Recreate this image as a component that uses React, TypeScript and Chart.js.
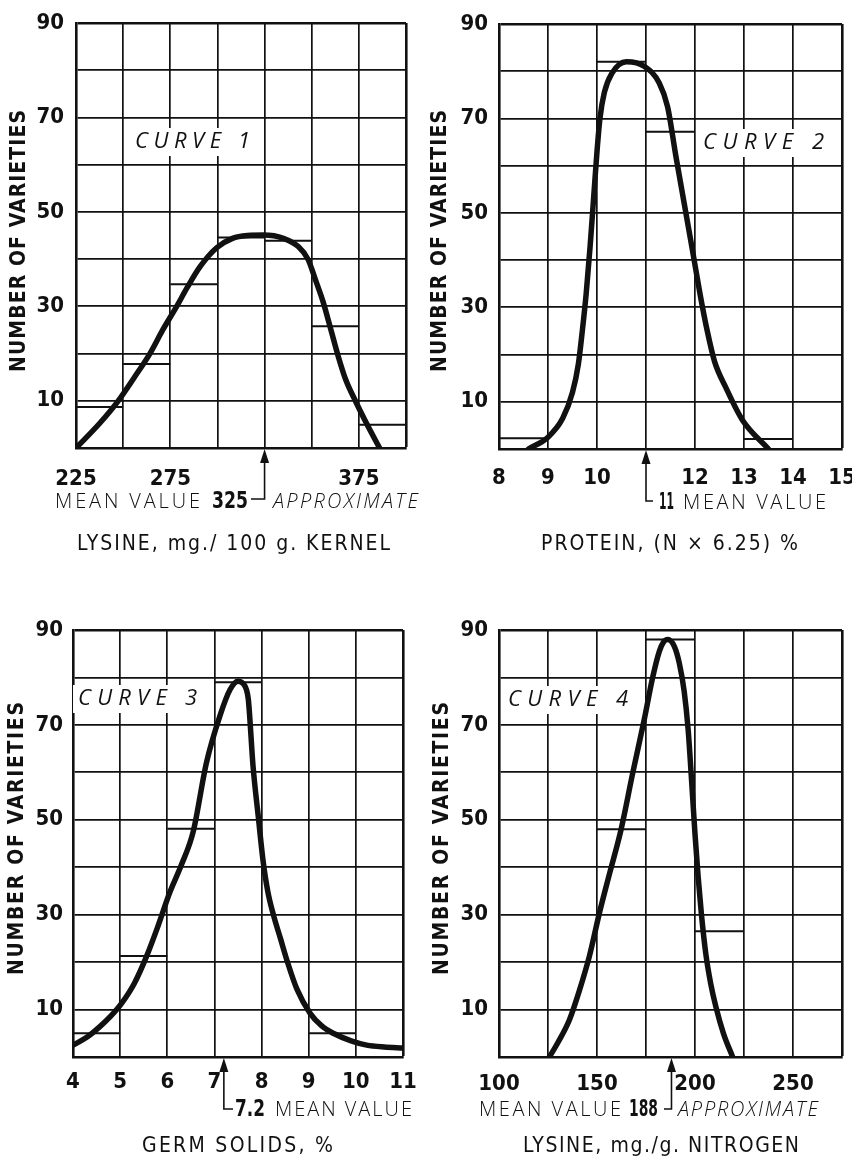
import React, { useEffect, useRef } from "react";
import { Chart, registerables } from "chart.js";

Chart.register(...registerables);

const BOLD = "'DejaVu Sans Condensed', 'DejaVu Sans', sans-serif";
const LIGHT = "'Open Sans', 'Liberation Sans', sans-serif";
const INK = "#111111";

// ---------- Curve 1 : Lysine, mg./100 g. kernel ----------
const c1CurveX = [225, 237.7, 247.4, 256, 264.2, 271, 278.4, 284, 290.8, 299.6, 308, 316, 324.5, 335, 343, 348, 352, 356, 360, 364, 368, 373.5, 380, 386];
const c1CurveY = [0, 5.3, 10, 15, 20, 25, 30, 34, 38.4, 42.4, 44.4, 45, 45.1, 44.4, 42.6, 40, 35.6, 31, 25.3, 19.5, 14.5, 9.7, 4.5, 0];
const c1BinStart = [225, 250, 275, 300, 325, 350, 375];
const c1BinEnd = [250, 275, 300, 325, 350, 375, 400];
const c1BinCount = [8.7, 17.8, 34.7, 44.6, 43.9, 25.8, 4.9];
const c1XTickLabels = [225, 275, 375];
const c1Mean = 325;

// ---------- Curve 2 : Protein, (N x 6.25) % ----------
const c2CurveX = [8.6, 9.0, 9.3, 9.5, 9.62, 9.7, 9.78, 9.86, 9.93, 10.0, 10.06, 10.15, 10.3, 10.6, 10.97, 11.27, 11.44, 11.61, 11.78, 11.95, 12.1, 12.25, 12.4, 12.63, 12.97, 13.5];
const c2CurveY = [0, 2.5, 6.5, 12, 18, 25, 33, 43, 53, 63, 70, 75.5, 79.5, 82, 81, 77.5, 72.5, 62, 52, 42, 33, 25, 18.5, 13, 6.1, 0];
const c2BinStart = [8, 10, 11, 13];
const c2BinEnd = [9, 11, 12, 14];
const c2BinCount = [2.3, 82, 67.2, 2.1];
const c2XTickLabels = [8, 9, 10, 12, 13, 14, 15];
const c2Mean = 11;

// ---------- Curve 3 : Germ solids, % ----------
const c3CurveX = [4, 4.3, 4.57, 4.8, 5.03, 5.3, 5.56, 5.8, 6.05, 6.3, 6.55, 6.83, 7.12, 7.33, 7.5, 7.62, 7.68, 7.72, 7.82, 7.93, 8.03, 8.13, 8.25, 8.4, 8.55, 8.75, 9.03, 9.27, 9.52, 9.9, 10.23, 10.6, 11];
const c3CurveY = [2.5, 4.2, 6.4, 8.6, 11.3, 15.5, 21.2, 27.5, 34.6, 40.5, 47.5, 62, 72, 77.4, 79.2, 78.6, 77.4, 75.3, 61.2, 50.7, 41.5, 35, 30, 25, 20, 14.3, 9.2, 6.6, 5, 3.4, 2.5, 2.1, 1.9];
const c3BinStart = [4, 5, 6, 7, 9];
const c3BinEnd = [5, 6, 7, 8, 10];
const c3BinCount = [5, 21.3, 48.1, 79, 5];
const c3XTickLabels = [4, 5, 6, 7, 8, 9, 10, 11];
const c3Mean = 7.2;

// ---------- Curve 4 : Lysine, mg./g. nitrogen ----------
const c4CurveX = [125.7, 130, 135.9, 141, 146.1, 151.2, 156.3, 162.3, 168.2, 174.1, 178.4, 181.8, 184, 186.1, 189.5, 192, 194.5, 196.5, 198.3, 200, 201.6, 203.3, 205.6, 208, 210.7, 214.5, 219.2];
const c4CurveY = [0, 3, 7.8, 14, 21.2, 30.3, 38.5, 48, 59.8, 71.1, 80, 85.5, 87.5, 88, 86.5, 83, 77, 69, 58, 47, 38, 30, 21.5, 15.5, 10.5, 5, 0];
const c4BinStart = [150, 175, 200];
const c4BinEnd = [175, 200, 225];
const c4BinCount = [48, 88, 26.5];
const c4XTickLabels = [100, 150, 200, 250];
const c4Mean = 188;

const yTickLabels = [10, 30, 50, 70, 90];
const yMin = 0;
const yMax = 90;
const yStep = 10;

type Piece = { text: string; x0: number; x1: number; kind: "bold" | "light" | "italic" };
type PanelCfg = {
  key: string;
  left: number;
  top: number;
  area: { l: number; r: number; t: number; b: number };
  xMin: number;
  xMax: number;
  xStep: number;
  xLabels: number[];
  curveX: number[];
  curveY: number[];
  binStart: number[];
  binEnd: number[];
  binCount: number[];
  mean: number;
  yTickPad: number;
  xTickPad: number;
  curveLabel: { text: string; x0: number; x1: number; y: number };
  meanLine: { lineTo: number; stubTo: number; y: number; pieces: Piece[] };
  xTitle: { text: string; x0: number; x1: number; y: number };
  yTitle: { text: string; x: number; y0: number; y1: number };
};

const W = 426;
const H = 579;

const panels: PanelCfg[] = [
  {
    key: "c1", left: 0, top: 0,
    area: { l: 76, r: 406, t: 23, b: 448 },
    xMin: 225, xMax: 400, xStep: 25, xLabels: c1XTickLabels,
    curveX: c1CurveX, curveY: c1CurveY, binStart: c1BinStart, binEnd: c1BinEnd, binCount: c1BinCount,
    mean: c1Mean, yTickPad: 12, xTickPad: 18,
    curveLabel: { text: "CURVE 1", x0: 135, x1: 250, y: 142 },
    meanLine: {
      lineTo: 499, stubTo: 251, y: 502,
      pieces: [
        { text: "MEAN VALUE", x0: 55, x1: 200, kind: "light" },
        { text: "325", x0: 212, x1: 248, kind: "bold" },
        { text: "APPROXIMATE", x0: 273, x1: 418, kind: "italic" },
      ],
    },
    xTitle: { text: "LYSINE, mg./ 100 g. KERNEL", x0: 77, x1: 390, y: 545 },
    yTitle: { text: "NUMBER OF VARIETIES", x: 20, y0: 110, y1: 372 },
  },
  {
    key: "c2", left: 426, top: 0,
    area: { l: 73, r: 416, t: 24, b: 449 },
    xMin: 8, xMax: 15, xStep: 1, xLabels: c2XTickLabels,
    curveX: c2CurveX, curveY: c2CurveY, binStart: c2BinStart, binEnd: c2BinEnd, binCount: c2BinCount,
    mean: c2Mean, yTickPad: 11, xTickPad: 16,
    curveLabel: { text: "CURVE 2", x0: 277, x1: 398, y: 143 },
    meanLine: {
      lineTo: 501, stubTo: 227, y: 503,
      pieces: [
        { text: "11", x0: 233, x1: 248, kind: "bold" },
        { text: "MEAN VALUE", x0: 257, x1: 400, kind: "light" },
      ],
    },
    xTitle: { text: "PROTEIN, (N × 6.25) %", x0: 115, x1: 372, y: 545 },
    yTitle: { text: "NUMBER OF VARIETIES", x: 15, y0: 110, y1: 372 },
  },
  {
    key: "c3", left: 0, top: 579,
    area: { l: 73, r: 403, t: 51, b: 478 },
    xMin: 4, xMax: 11, xStep: 1, xLabels: c3XTickLabels,
    curveX: c3CurveX, curveY: c3CurveY, binStart: c3BinStart, binEnd: c3BinEnd, binCount: c3BinCount,
    mean: c3Mean, yTickPad: 10, xTickPad: 12,
    curveLabel: { text: "CURVE 3", x0: 78, x1: 197, y: 120 },
    meanLine: {
      lineTo: 530, stubTo: 233, y: 531,
      pieces: [
        { text: "7.2", x0: 235, x1: 265, kind: "bold" },
        { text: "MEAN VALUE", x0: 275, x1: 412, kind: "light" },
      ],
    },
    xTitle: { text: "GERM SOLIDS, %", x0: 142, x1: 333, y: 568 },
    yTitle: { text: "NUMBER OF VARIETIES", x: 18, y0: 123, y1: 396 },
  },
  {
    key: "c4", left: 426, top: 579,
    area: { l: 73, r: 416, t: 51, b: 478 },
    xMin: 100, xMax: 275, xStep: 25, xLabels: c4XTickLabels,
    curveX: c4CurveX, curveY: c4CurveY, binStart: c4BinStart, binEnd: c4BinEnd, binCount: c4BinCount,
    mean: c4Mean, yTickPad: 11, xTickPad: 14,
    curveLabel: { text: "CURVE 4", x0: 82, x1: 202, y: 121 },
    meanLine: {
      lineTo: 530, stubTo: 238, y: 531,
      pieces: [
        { text: "MEAN VALUE", x0: 53, x1: 195, kind: "light" },
        { text: "188", x0: 203, x1: 232, kind: "bold" },
        { text: "APPROXIMATE", x0: 252, x1: 392, kind: "italic" },
      ],
    },
    xTitle: { text: "LYSINE, mg./g. NITROGEN", x0: 97, x1: 373, y: 568 },
    yTitle: { text: "NUMBER OF VARIETIES", x: 17, y0: 123, y1: 396 },
  },
];

function fontFor(kind: string): string {
  if (kind === "bold") return `bold 23px ${BOLD}`;
  if (kind === "italic") return `italic 300 20px ${LIGHT}`;
  return `300 20px ${LIGHT}`;
}

function drawFit(ctx: CanvasRenderingContext2D, text: string, x0: number, x1: number, y: number, font: string) {
  ctx.save();
  ctx.font = font;
  ctx.textBaseline = "middle";
  ctx.textAlign = "left";
  ctx.fillStyle = INK;
  const w = ctx.measureText(text).width;
  const target = x1 - x0;
  if (w <= target) {
    const n = Math.max(1, text.length - 1);
    (ctx as any).letterSpacing = `${(target - w) / n}px`;
    ctx.fillText(text, x0, y);
  } else {
    ctx.translate(x0, y);
    ctx.scale(target / w, 1);
    ctx.fillText(text, 0, 0);
  }
  ctx.restore();
}

function Panel({ cfg }: { cfg: PanelCfg }) {
  const ref = useRef<HTMLCanvasElement>(null);

  useEffect(() => {
    const canvas = ref.current;
    if (!canvas) return;

    const curveData = cfg.curveX.map((x, i) => ({ x, y: cfg.curveY[i] }));
    const binData: { x: number; y: number | null }[] = [];
    cfg.binStart.forEach((s, i) => {
      binData.push({ x: s, y: cfg.binCount[i] });
      binData.push({ x: cfg.binEnd[i], y: cfg.binCount[i] });
      binData.push({ x: cfg.binEnd[i], y: null });
    });

    const annot = {
      id: "annot_" + cfg.key,
      beforeDatasetsDraw(chart: any) {
        const ctx: CanvasRenderingContext2D = chart.ctx;
        const cl = cfg.curveLabel;
        ctx.save();
        ctx.fillStyle = "#ffffff";
        ctx.fillRect(cl.x0 - 5, cl.y - 14, cl.x1 - cl.x0 + 10, 28);
        ctx.restore();
        drawFit(ctx, cl.text, cl.x0, cl.x1, cl.y, `italic 400 22px ${LIGHT}`);
      },
      afterDraw(chart: any) {
        const ctx: CanvasRenderingContext2D = chart.ctx;
        const xs = chart.scales.x.getPixelForValue(cfg.mean);
        const yb = chart.chartArea.bottom;
        const m = cfg.meanLine;
        ctx.save();
        ctx.strokeStyle = INK;
        ctx.fillStyle = INK;
        ctx.lineWidth = 1.6;
        ctx.beginPath();
        ctx.moveTo(xs, yb + 8);
        ctx.lineTo(xs, m.lineTo);
        ctx.lineTo(m.stubTo, m.lineTo);
        ctx.stroke();
        ctx.beginPath();
        ctx.moveTo(xs, yb + 1);
        ctx.lineTo(xs - 4.5, yb + 15);
        ctx.lineTo(xs + 4.5, yb + 15);
        ctx.closePath();
        ctx.fill();
        ctx.restore();
        m.pieces.forEach((p) => drawFit(ctx, p.text, p.x0, p.x1, m.y, fontFor(p.kind)));

        const xt = cfg.xTitle;
        drawFit(ctx, xt.text, xt.x0, xt.x1, xt.y, `500 21px ${BOLD}`);

        const yt = cfg.yTitle;
        ctx.save();
        ctx.translate(yt.x, (yt.y0 + yt.y1) / 2);
        ctx.rotate(-Math.PI / 2);
        const half = (yt.y1 - yt.y0) / 2;
        drawFit(ctx, yt.text, -half, half, 0, `bold 21px ${BOLD}`);
        ctx.restore();
      },
    };

    const frameW = (max: number) => (c: any) => (c.tick && Math.abs(c.tick.value - max) < 1e-9 ? 2.6 : 1.7);

    const chart = new Chart(canvas, {
      type: "line",
      data: {
        datasets: [
          {
            data: binData as any,
            borderColor: INK,
            borderWidth: 2,
            pointRadius: 0,
            tension: 0,
            spanGaps: false,
            borderCapStyle: "butt",
          },
          {
            data: curveData as any,
            borderColor: INK,
            borderWidth: 5.5,
            pointRadius: 0,
            cubicInterpolationMode: "monotone",
            borderCapStyle: "round",
            borderJoinStyle: "round",
          },
        ],
      },
      options: {
        responsive: false,
        animation: false,
        devicePixelRatio: 1,
        events: [],
        layout: { padding: { left: 0, top: cfg.area.t, right: W - cfg.area.r, bottom: 0 } },
        plugins: { legend: { display: false }, tooltip: { enabled: false } },
        scales: {
          x: {
            type: "linear",
            min: cfg.xMin,
            max: cfg.xMax,
            ticks: {
              stepSize: cfg.xStep,
              autoSkip: false,
              maxRotation: 0,
              minRotation: 0,
              padding: cfg.xTickPad,
              color: INK,
              font: { family: BOLD, size: 22, weight: "bold" },
              callback: (v: any) => (cfg.xLabels.includes(Number(v)) ? String(v) : ""),
            },
            grid: { color: INK, lineWidth: frameW(cfg.xMax), drawTicks: false },
            border: { color: INK, width: 2.6 },
            afterFit: (s: any) => {
              s.height = H - cfg.area.b;
              s.paddingLeft = 0;
              s.paddingRight = 0;
            },
          },
          y: {
            type: "linear",
            min: yMin,
            max: yMax,
            ticks: {
              stepSize: yStep,
              autoSkip: false,
              padding: cfg.yTickPad,
              color: INK,
              font: { family: BOLD, size: 22, weight: "bold" },
              callback: (v: any) => (yTickLabels.includes(Number(v)) ? String(v) : ""),
            },
            grid: { color: INK, lineWidth: frameW(yMax), drawTicks: false },
            border: { color: INK, width: 2.6 },
            afterFit: (s: any) => {
              s.width = cfg.area.l;
              s.paddingTop = 0;
              s.paddingBottom = 0;
            },
          },
        },
      },
      plugins: [annot],
    } as any);

    return () => chart.destroy();
  }, [cfg]);

  return (
    <canvas
      ref={ref}
      width={W}
      height={H}
      style={{ position: "absolute", left: cfg.left, top: cfg.top, width: W, height: H }}
    />
  );
}

export default function App() {
  return (
    <div style={{ position: "absolute", left: 0, top: 0, width: 852, height: 1158, background: "#ffffff" }}>
      {panels.map((p) => (
        <Panel key={p.key} cfg={p} />
      ))}
    </div>
  );
}
